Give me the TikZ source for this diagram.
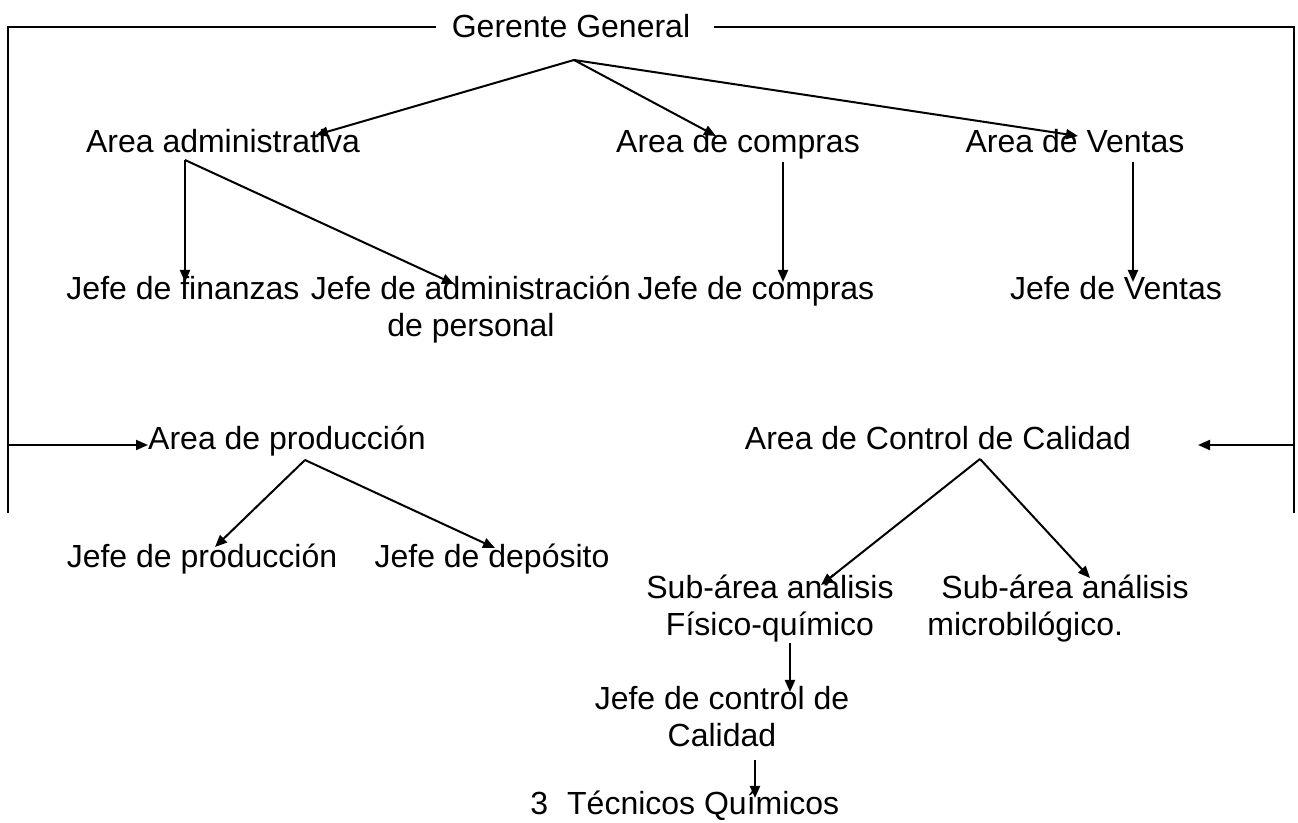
\documentclass[tikz,border=0pt]{standalone}
\usepackage{fontspec}
\setmainfont{Liberation Sans}
\usetikzlibrary{arrows.meta}
\begin{document}
\begin{tikzpicture}[x=0.5pt,y=-0.5pt,
  lbl/.style={font=\fontsize{16pt}{18.5pt}\selectfont, inner sep=0pt, anchor=base, align=center},
  ln/.style={line width=1pt},
  frame/.style={line width=1.3pt},
  arr/.style={ln, -{Triangle[length=6pt,width=5pt]}}]
\useasboundingbox (0,0) rectangle (1298,823);
% texts (y = baseline of the last line)
\node[lbl] (gg) at (571,38) {Gerente General};
\node[lbl] (adm) at (223,153) {Area administrativa};
\node[lbl] (comp) at (738,153) {Area de compras};
\node[lbl] (vent) at (1075,153) {Area de Ventas};
\node[lbl] (jfin) at (183,300) {Jefe de finanzas};
\node[lbl] (jadm) at (471,337) {Jefe de administración\\de personal};
\node[lbl] (jcomp) at (756,300) {Jefe de compras};
\node[lbl] (jvent) at (1116,300) {Jefe de Ventas};
\node[lbl] (prod) at (287,450) {Area de producción};
\node[lbl] (cal) at (938,450) {Area de Control de Calidad};
\node[lbl] (jprod) at (202,568) {Jefe de producción};
\node[lbl] (jdep) at (492,568) {Jefe de depósito};
\node[lbl] (fq) at (770,636) {Sub-área análisis\\Físico-químico};
\node[lbl, align=left, anchor=base west] (mic) at (927,636) {\hspace{7pt}Sub-área análisis\\microbilógico.};
\node[lbl] (jcc) at (722,747) {Jefe de control de\\Calidad};
\node[lbl, anchor=base west] (tec) at (530,815) {3\hspace{9.5pt}Técnicos Químicos};
% coordinates
\coordinate (tl) at (8,27);
\coordinate (bl) at (8,513);
\coordinate (tr) at (1294,27);
\coordinate (br) at (1294,513);
\coordinate (ggL) at (436,27);
\coordinate (ggR) at (714,27);
\coordinate (lmid) at (8,445);
\coordinate (rmid) at (1294,445);
\coordinate (prodT) at (148,445);
\coordinate (calT) at (1198,445);
\coordinate (ggO) at (574,60);
\coordinate (admT) at (316,135);
\coordinate (compT) at (716,136);
\coordinate (ventT) at (1078,136);
\coordinate (admO) at (185,160);
\coordinate (jfinT) at (185,282);
\coordinate (jadmT) at (454,284);
\coordinate (compO) at (783,162);
\coordinate (jcompT) at (783,282);
\coordinate (ventO) at (1133,162);
\coordinate (jventT) at (1133,282);
\coordinate (prodO) at (305,460);
\coordinate (jprodT) at (215,547);
\coordinate (jdepT) at (495,548);
\coordinate (calO) at (980,459);
\coordinate (fqT) at (821,585);
\coordinate (micT) at (1090,578);
\coordinate (fqO) at (790,643);
\coordinate (jccT) at (790,692);
\coordinate (jccO) at (755,760);
\coordinate (tecT) at (755,798);
% frame
\draw[frame] (ggL) -- (tl) -- (bl);
\draw[frame] (ggR) -- (tr) -- (br);
% connectors
\draw[arr] (lmid) -- (prodT);
\draw[arr] (rmid) -- (calT);
\draw[arr] (ggO) -- (admT);
\draw[arr] (ggO) -- (compT);
\draw[arr] (ggO) -- (ventT);
\draw[arr] (admO) -- (jfinT);
\draw[arr] (admO) -- (jadmT);
\draw[arr] (compO) -- (jcompT);
\draw[arr] (ventO) -- (jventT);
\draw[arr] (prodO) -- (jprodT);
\draw[arr] (prodO) -- (jdepT);
\draw[arr] (calO) -- (fqT);
\draw[arr] (calO) -- (micT);
\draw[arr] (fqO) -- (jccT);
\draw[arr] (jccO) -- (tecT);
\end{tikzpicture}
\end{document}
